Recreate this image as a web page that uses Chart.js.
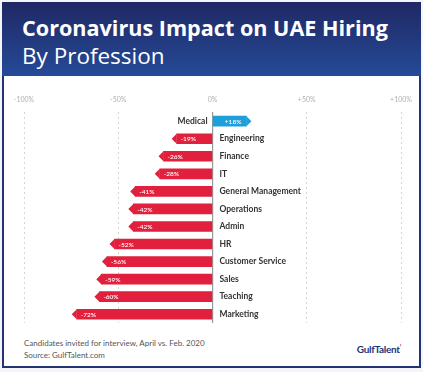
<!DOCTYPE html>
<html>
<head>
<meta charset="utf-8">
<script src="https://cdn.jsdelivr.net/npm/chart.js@4.4.1/dist/chart.umd.min.js"></script>
<style>
  html, body { margin: 0; padding: 0; background: #f4f5f8; }
  #frame {
    position: absolute; left: 2px; top: 2px; width: 415px; height: 364px;
    border: 2px solid #233473; border-top: none; background: #fff;
    font-family: Lato, "Open Sans", sans-serif;
  }
  #head {
    position: absolute; left: -2px; top: 0; width: 419px; height: 74px;
    background: linear-gradient(#1f2863, #254a98);
    color: #fff; font-family: "Open Sans", sans-serif;
  }
  #title { position: absolute; left: 20px; top: 11px; font-size: 21.6px; font-weight: 700; white-space: nowrap; }
  #sub { position: absolute; left: 20px; top: 38px; font-size: 22.5px; font-weight: 400; white-space: nowrap; }
  #chartBox { position: absolute; left: -2px; top: 74px; width: 423px; height: 255px; }
  #foot1, #foot2 { position: absolute; left: 20px; font-size: 8px; color: #555; }
  #foot1 { top: 336px; }
  #foot2 { top: 348px; }
  #logo { position: absolute; right: 18px; top: 341px; font-size: 10px; font-weight: 700; color: #233473; letter-spacing: -0.3px; }
  #logo span { color: #e0203c; font-size: 7px; vertical-align: top; }
</style>
</head>
<body>
<div id="frame">
  <div id="head">
    <div id="title">Coronavirus Impact on UAE Hiring</div>
    <div id="sub">By Profession</div>
  </div>
  <div id="chartBox"><canvas id="myChart" width="423" height="255"></canvas></div>
  <div id="foot1">Candidates invited for interview, April vs. Feb. 2020</div>
  <div id="foot2">Source: GulfTalent.com</div>
  <div id="logo">GulfTalent<span>&#8217;</span></div>
</div>
<script>
const professions = ['Medical', 'Engineering', 'Finance', 'IT', 'General Management', 'Operations',
  'Admin', 'HR', 'Customer Service', 'Sales', 'Teaching', 'Marketing']
const changePct = [18, -19, -26, -28, -41, -42, -42, -52, -56, -59, -60, -72]
const tickValues = [-100, -50, 0, 50, 100]

const RED = '#e0203c'
const BLUE = '#1c9fda'

// arrow tips, category names and value labels
const barDecor = {
  id: 'barDecor',
  afterDatasetsDraw(chart) {
    const ctx = chart.ctx
    const meta = chart.getDatasetMeta(0)
    const zeroX = chart.scales.x.getPixelForValue(0)
    ctx.save()
    meta.data.forEach((bar, i) => {
      const v = changePct[i]
      const h = bar.height
      const dir = v >= 0 ? 1 : -1
      ctx.fillStyle = v >= 0 ? BLUE : RED
      ctx.beginPath()
      ctx.moveTo(bar.x, bar.y - h / 2)
      ctx.lineTo(bar.x + dir * 5, bar.y)
      ctx.lineTo(bar.x, bar.y + h / 2)
      ctx.closePath()
      ctx.fill()

      ctx.fillStyle = '#fff'
      ctx.font = '600 6.5px Lato, sans-serif'
      ctx.textBaseline = 'middle'
      const txt = (v > 0 ? '+' : '') + v + '%'
      if (v >= 0) {
        ctx.textAlign = 'right'
        ctx.fillText(txt, bar.x - 5, bar.y + 0.5)
      } else {
        ctx.textAlign = 'left'
        ctx.fillText(txt, bar.x + 4, bar.y + 0.5)
      }

      ctx.fillStyle = '#333'
      ctx.font = '700 8.5px Lato, sans-serif'
      if (v >= 0) {
        ctx.textAlign = 'right'
        ctx.fillText(professions[i], zeroX - 5, bar.y)
      } else {
        ctx.textAlign = 'left'
        ctx.fillText(professions[i], zeroX + 7, bar.y)
      }
    })
    ctx.restore()
  }
}

new Chart(document.getElementById('myChart'), {
  type: 'bar',
  data: {
    labels: professions,
    datasets: [{
      data: changePct,
      backgroundColor: changePct.map(v => v >= 0 ? BLUE : RED),
      barThickness: 10,
      borderWidth: 0
    }]
  },
  options: {
    indexAxis: 'y',
    responsive: false,
    animation: false,
    layout: { padding: { left: 22, right: 24, top: 12, bottom: 8 } },
    plugins: { legend: { display: false }, tooltip: { enabled: false } },
    scales: {
      x: {
        position: 'top',
        min: -100, max: 100,
        afterBuildTicks: (axis) => { axis.ticks = tickValues.map(v => ({ value: v })) },
        ticks: {
          color: '#b0b0b0',
          font: { family: 'Lato', size: 7 },
          padding: 8,
          callback: (v) => (v > 0 ? '+' : '') + v + '%'
        },
        grid: {
          drawTicks: false,
          color: (c) => c.tick && c.tick.value === 0 ? '#9a9a9a' : '#d6d6d6',
          lineWidth: (c) => c.tick && c.tick.value === 0 ? 1.2 : 1
        },
        border: {
          display: false,
          dash: (c) => c.tick && c.tick.value === 0 ? [] : [2, 3]
        }
      },
      y: {
        display: false
      }
    }
  },
  plugins: [barDecor]
})
</script>
</body>
</html>
